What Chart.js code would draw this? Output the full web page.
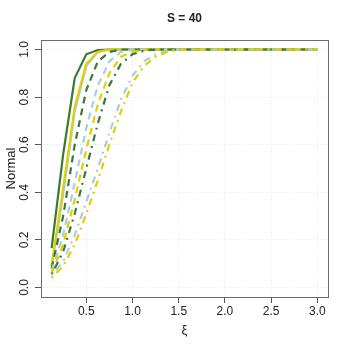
<!DOCTYPE html>
<html>
<head>
<meta charset="utf-8">
<script src="https://cdn.jsdelivr.net/npm/chart.js@4.4.1/dist/chart.umd.min.js"></script>
<style>
  html, body { margin: 0; padding: 0; background: #fff; }
  #wrap { width: 349px; height: 349px; }
</style>
</head>
<body>
<div id="wrap"><canvas id="chart" width="349" height="349"></canvas></div>
<script>
// xi values where the curves were evaluated
var xi = [0.125, 0.25, 0.375, 0.5, 0.625, 0.75, 0.875, 1.0, 1.125, 1.25, 1.375, 1.5,
          1.625, 1.75, 1.875, 2.0, 2.125, 2.25, 2.375, 2.5, 2.625, 2.75, 2.875, 3.0];

// solid lines
var solidGreen  = [0.165, 0.56, 0.88, 0.98, 0.998, 1, 1, 1, 1, 1, 1, 1, 1, 1, 1, 1, 1, 1, 1, 1, 1, 1, 1, 1];
var solidBlue   = [0.09, 0.39, 0.74, 0.93, 0.99, 1, 1, 1, 1, 1, 1, 1, 1, 1, 1, 1, 1, 1, 1, 1, 1, 1, 1, 1];
var solidYellow = [0.09, 0.42, 0.76, 0.94, 0.99, 1, 1, 1, 1, 1, 1, 1, 1, 1, 1, 1, 1, 1, 1, 1, 1, 1, 1, 1];
// dashed lines
var dashGreen  = [0.08, 0.30, 0.60, 0.83, 0.95, 0.99, 1, 1, 1, 1, 1, 1, 1, 1, 1, 1, 1, 1, 1, 1, 1, 1, 1, 1];
var dashBlue   = [0.07, 0.22, 0.44, 0.67, 0.85, 0.95, 0.99, 1, 1, 1, 1, 1, 1, 1, 1, 1, 1, 1, 1, 1, 1, 1, 1, 1];
var dashYellow = [0.06, 0.18, 0.37, 0.58, 0.77, 0.90, 0.97, 0.99, 1, 1, 1, 1, 1, 1, 1, 1, 1, 1, 1, 1, 1, 1, 1, 1];
// dot-dash lines
var ddGreen  = [0.055, 0.15, 0.31, 0.50, 0.69, 0.85, 0.94, 0.98, 0.995, 1, 1, 1, 1, 1, 1, 1, 1, 1, 1, 1, 1, 1, 1, 1];
var ddBlue   = [0.05, 0.11, 0.22, 0.36, 0.50, 0.65, 0.79, 0.89, 0.95, 0.98, 0.995, 1, 1, 1, 1, 1, 1, 1, 1, 1, 1, 1, 1, 1];
var ddYellow = [0.04, 0.09, 0.18, 0.31, 0.45, 0.60, 0.74, 0.86, 0.93, 0.97, 0.99, 0.997, 1, 1, 1, 1, 1, 1, 1, 1, 1, 1, 1, 1];

var xTicks = [0.5, 1.0, 1.5, 2.0, 2.5, 3.0];
var yTicks = [0.0, 0.2, 0.4, 0.6, 0.8, 1.0];

var green = '#3a7a33', blue = '#a6cee3', yellow = '#e3cf00';
var solid = [], dash = [7, 5], dotdash = [2, 5, 7, 5];

function pts(ys) {
    return xi.map(function (x, i) { return {x: x, y: ys[i]}; });
}
// later series are painted over earlier ones, like R's lines()
var n = 0;
function ds(ys, color, pattern) {
    n++;
    return {
        data: pts(ys),
        borderColor: color,
        borderWidth: 2.2,
        borderDash: pattern,
        pointRadius: 0,
        tension: 0,
        fill: false,
        order: 20 - n
    };
}

var font = '"Liberation Sans", Arial, sans-serif';

var rStyle = {
    id: 'rStyle',
    afterDraw: function (chart) {
        var ctx = chart.ctx, a = chart.chartArea;
        var xs = chart.scales.x, ys = chart.scales.y;
        ctx.save();
        // box
        ctx.strokeStyle = '#6b6b6b';
        ctx.lineWidth = 1;
        ctx.strokeRect(a.left + 0.5, a.top + 0.5, a.right - a.left, a.bottom - a.top);
        ctx.fillStyle = '#222';
        // x tick labels
        ctx.font = '12px ' + font;
        ctx.textAlign = 'center';
        ctx.textBaseline = 'middle';
        xTicks.forEach(function (v) {
            ctx.fillText(v.toFixed(1), xs.getPixelForValue(v), 312);
        });
        // y tick labels, rotated like R
        yTicks.forEach(function (v) {
            ctx.save();
            ctx.translate(25, ys.getPixelForValue(v));
            ctx.rotate(-Math.PI / 2);
            ctx.fillText(v.toFixed(1), 0, 0);
            ctx.restore();
        });
        // axis titles
        ctx.font = '13px ' + font;
        ctx.fillText('\u03be', (a.left + a.right) / 2, 330);
        ctx.save();
        ctx.translate(11, (a.top + a.bottom) / 2);
        ctx.rotate(-Math.PI / 2);
        ctx.fillText('Normal', 0, 0);
        ctx.restore();
        // main title
        ctx.font = 'bold 12px ' + font;
        ctx.fillText('S = 40', (a.left + a.right) / 2, 19);
        ctx.restore();
    }
};

new Chart(document.getElementById('chart'), {
    type: 'line',
    data: {
        datasets: [
            ds(solidGreen, green, solid),
            ds(solidBlue, blue, solid),
            ds(solidYellow, yellow, solid),
            ds(dashGreen, green, dash),
            ds(dashBlue, blue, dash),
            ds(dashYellow, yellow, dash),
            ds(ddGreen, green, dotdash),
            ds(ddBlue, blue, dotdash),
            ds(ddYellow, yellow, dotdash)
        ]
    },
    options: {
        responsive: false,
        animation: false,
        layout: { padding: { top: 40, right: 21, left: 0, bottom: 0 } },
        plugins: { legend: { display: false }, tooltip: { enabled: false }, title: { display: false } },
        scales: {
            x: {
                type: 'linear',
                min: 0.01,
                max: 3.115,
                afterBuildTicks: function (s) { s.ticks = xTicks.map(function (v) { return {value: v}; }); },
                afterFit: function (s) { s.height = 52; },
                ticks: { display: false },
                grid: { color: '#e8e8e8', tickColor: '#555', tickLength: 6, lineWidth: 1 },
                border: { display: false, dash: [1, 2] }
            },
            y: {
                type: 'linear',
                min: -0.04,
                max: 1.04,
                afterBuildTicks: function (s) { s.ticks = yTicks.map(function (v) { return {value: v}; }); },
                afterFit: function (s) { s.width = 41; },
                ticks: { display: false },
                grid: { color: '#e8e8e8', tickColor: '#555', tickLength: 6, lineWidth: 1 },
                border: { display: false, dash: [1, 2] }
            }
        }
    },
    plugins: [rStyle]
});
</script>
</body>
</html>
